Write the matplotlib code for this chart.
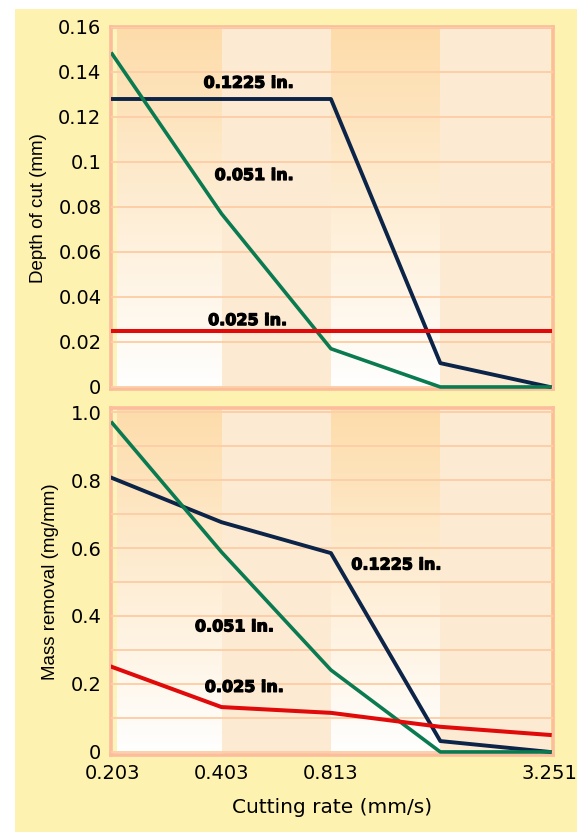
import numpy as np
import matplotlib
matplotlib.use('Agg')
import matplotlib.pyplot as plt
import matplotlib.patheffects as pe
from matplotlib.colors import LinearSegmentedColormap
from matplotlib.patches import Rectangle

# cutting rate categories (mm/s); 4th one has no label in the original
rate_labels = ['0.203', '0.403', '0.813', '', '3.251']

# depth of cut (mm) for each tool size
depth_01225 = [0.128, 0.128, 0.128, 0.0106, 0.0]
depth_0051 = [0.148, 0.077, 0.017, 0.0, 0.0]
depth_0025 = [0.025, 0.025, 0.025, 0.025, 0.025]

# mass removal (mg/mm)
mass_01225 = [0.806, 0.676, 0.585, 0.032, 0.0]
mass_0051 = [0.968, 0.588, 0.241, 0.0, 0.0]
mass_0025 = [0.25, 0.132, 0.115, 0.074, 0.05]

navy = '#0b2447'
green = '#0a7a50'
red = '#e00a0a'
frame = '#fcbd9c'
gridc = '#fdcfa8'
yellow = '#fdf2b0'

W, H = 584, 832
fig = plt.figure(figsize=(W/100, H/100), dpi=100)
fig.patch.set_facecolor('white')
fig.patches.append(Rectangle((15/W, 0), (577-15)/W, (832-9)/H, transform=fig.transFigure,
                             facecolor=yellow, edgecolor='none', zorder=-10))

grad = LinearSegmentedColormap.from_list('g', ['#ffffff', '#fddcaa'])
x = np.arange(len(rate_labels))


def setup(ax, ylim, major, minor):
    ax.set_facecolor('#fdf4bb')
    ax.set_xlim(-0.015, 4.03)
    ax.set_ylim(*ylim)
    # alternating column bands: dark ones fade to white at the bottom
    g = np.linspace(0, 1, 256).reshape(-1, 1)
    for i in range(4):
        x0 = i + (0.04 if i == 0 else 0)
        if i % 2 == 0:
            ax.imshow(g, cmap=grad, origin='lower', aspect='auto',
                      extent=[x0, i + 1, ylim[0], ylim[1]], zorder=0)
        else:
            ax.axvspan(x0, i + 1, color='#fdead3', lw=0, zorder=0)
    ax.set_yticks(major)
    ax.set_yticks(minor, minor=True)
    ax.grid(True, axis='y', which='both', color=gridc, lw=1.4, zorder=1)
    ax.set_axisbelow(False)
    ax.tick_params(length=0, which='both', labelsize=14, pad=6.5)
    for s in ax.spines.values():
        s.set_color(frame)
        s.set_linewidth(2.6)
    ax.set_xticks(x)


ylab = dict(family=['Liberation Sans', 'DejaVu Sans'], fontsize=13.5, labelpad=8)
lab = dict(fontsize=11.5, fontweight='bold', ha='center', va='center', zorder=4,
           path_effects=[pe.withStroke(linewidth=0.9, foreground='black')])

ax1 = fig.add_axes([110.5/W, 1 - 389/H, (553-110.5)/W, (389-27)/H])
setup(ax1, (-0.0009, 0.1591), np.arange(0, 0.161, 0.02), [])
ax1.set_yticklabels(['0', '0.02', '0.04', '0.06', '0.08', '0.1', '0.12', '0.14', '0.16'])
ax1.set_xticklabels([])
ax1.plot(x, depth_01225, color=navy, lw=2.8, zorder=3)
ax1.plot(x, depth_0051, color=green, lw=2.6, zorder=3)
ax1.plot(x, depth_0025, color=red, lw=2.9, zorder=3)
ax1.set_ylabel('Depth of cut (mm)', **ylab)
ax1.text(1.25, 0.135, '0.1225 in.', **lab)
ax1.text(1.3, 0.094, '0.051 in.', **lab)
ax1.text(1.24, 0.0295, '0.025 in.', **lab)

ax2 = fig.add_axes([110.5/W, 1 - 755/H, (553-110.5)/W, (755-408)/H])
setup(ax2, (-0.009, 1.012), np.arange(0, 1.01, 0.2), np.arange(0.1, 1.0, 0.2))
ax2.set_yticklabels(['0', '0.2', '0.4', '0.6', '0.8', '1.0'])
ax2.set_xticklabels(rate_labels)
ax2.plot(x, mass_01225, color=navy, lw=2.8, zorder=3)
ax2.plot(x, mass_0051, color=green, lw=2.6, zorder=3)
ax2.plot(x, mass_0025, color=red, lw=2.9, zorder=3)
ax2.set_ylabel('Mass removal (mg/mm)', **ylab)
ax2.set_xlabel('Cutting rate (mm/s)', fontsize=14.5, labelpad=11)
ax2.text(2.6, 0.55, '0.1225 in.', **lab)
ax2.text(1.12, 0.368, '0.051 in.', **lab)
ax2.text(1.21, 0.19, '0.025 in.', **lab)

fig.savefig('out.png', dpi=100, facecolor=fig.get_facecolor())
